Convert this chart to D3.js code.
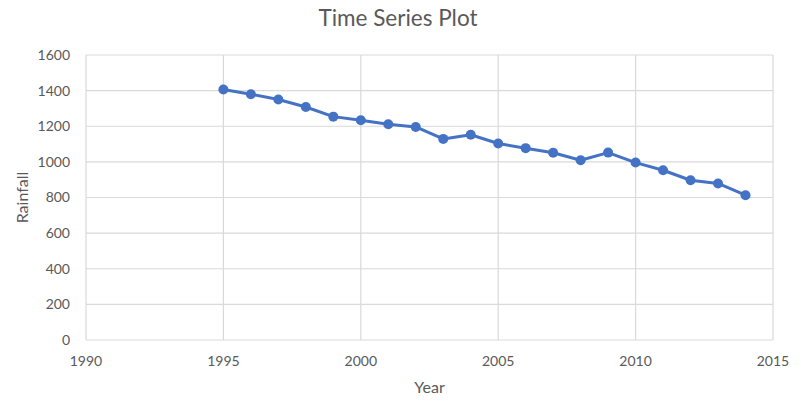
<!DOCTYPE html>
<html><head><meta charset="utf-8">
<script src="https://cdn.jsdelivr.net/npm/d3@7"></script>
<style>body{margin:0;background:#fff;} svg{display:block;font-family:Lato,"Open Sans",sans-serif;}</style>
</head><body>
<svg id="c" width="801" height="403"></svg>
<script>
const years = [1995,1996,1997,1998,1999,2000,2001,2002,2003,2004,2005,2006,2007,2008,2009,2010,2011,2012,2013,2014];
const rainfall = [1406,1380,1350,1308,1254,1234,1211,1196,1129,1152,1103,1077,1051,1009,1052,996,953,897,879,813];
const xTicks = [1990,1995,2000,2005,2010,2015];
const yTicks = [0,200,400,600,800,1000,1200,1400,1600];
const title = "Time Series Plot", xLabel = "Year", yLabel = "Rainfall";

const svg = d3.select("#c");
const m = {l:86, r:28, t:55, b:63};
const W = 801, H = 403;
const x = d3.scaleLinear().domain([1990,2015]).range([m.l, W-m.r]);
const y = d3.scaleLinear().domain([0,1600]).range([H-m.b, m.t]);
const txt = "#595959", grid = "#d9d9d9", blue = "#4472c4";

svg.append("g").selectAll("line").data(yTicks).join("line")
  .attr("x1", m.l).attr("x2", W-m.r).attr("y1", d=>y(d)).attr("y2", d=>y(d))
  .attr("stroke", grid).attr("stroke-width", 1.2);
svg.append("g").selectAll("line").data(xTicks).join("line")
  .attr("y1", y(0)).attr("y2", y(1600)).attr("x1", d=>x(d)).attr("x2", d=>x(d))
  .attr("stroke", grid).attr("stroke-width", 1.2);

svg.append("g").selectAll("text").data(yTicks).join("text")
  .attr("x", m.l-16).attr("y", d=>y(d)).attr("dy","0.35em").attr("text-anchor","end")
  .attr("fill", txt).attr("font-size", 14).text(d=>d);
svg.append("g").selectAll("text").data(xTicks).join("text")
  .attr("x", d=>x(d)).attr("y", 366).attr("text-anchor","middle")
  .attr("fill", txt).attr("font-size", 14).text(d=>d);

svg.append("text").attr("x", 398).attr("y", 26).attr("text-anchor","middle")
  .attr("fill", txt).attr("font-size", 22.5).text(title);
svg.append("text").attr("x", x(2002.5)).attr("y", 393).attr("text-anchor","middle")
  .attr("fill", txt).attr("font-size", 16).text(xLabel);
svg.append("text").attr("transform", `translate(28,${y(800)}) rotate(-90)`).attr("text-anchor","middle")
  .attr("fill", txt).attr("font-size", 16).text(yLabel);

const data = years.map((d,i)=>({x:d, y:rainfall[i]}));
svg.append("path").datum(data)
  .attr("d", d3.line().x(d=>x(d.x)).y(d=>y(d.y)))
  .attr("fill","none").attr("stroke", blue).attr("stroke-width", 3).attr("stroke-linejoin","round");
svg.append("g").selectAll("circle").data(data).join("circle")
  .attr("cx", d=>x(d.x)).attr("cy", d=>y(d.y)).attr("r", 5).attr("fill", blue);
</script>
</body></html>
